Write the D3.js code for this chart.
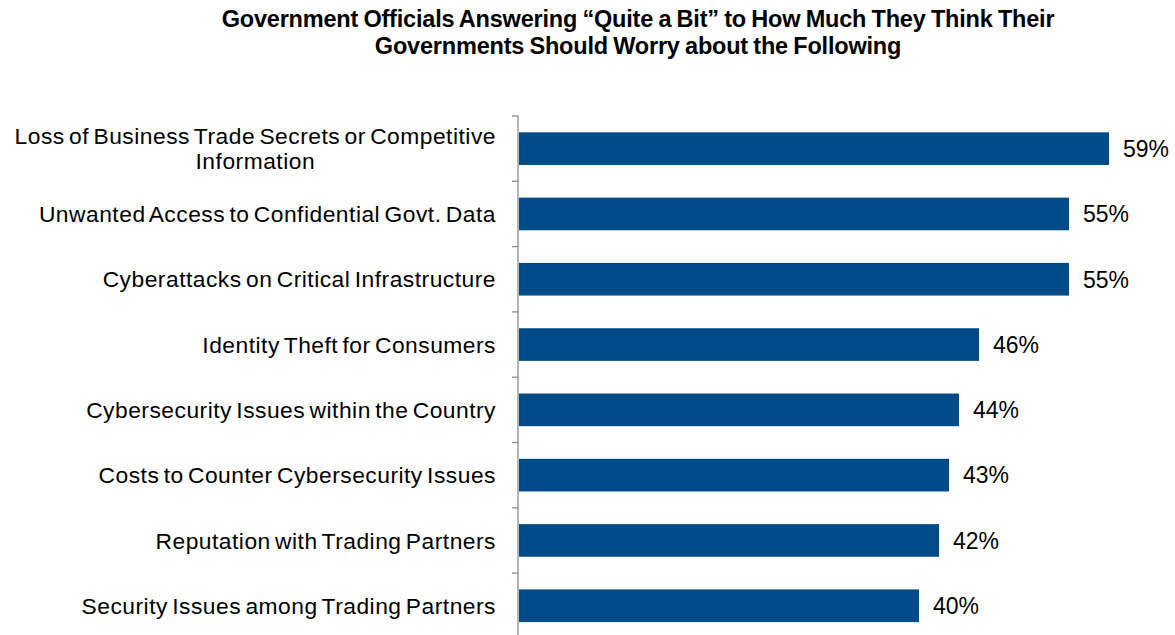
<!DOCTYPE html>
<html>
<head>
<meta charset="utf-8">
<script src="https://cdn.jsdelivr.net/npm/d3@7/dist/d3.min.js"></script>
<style>
  html, body { margin: 0; padding: 0; background: #fff; }
  svg { display: block; }
  text { font-family: "Liberation Sans", Arial, sans-serif; fill: #000; }
</style>
</head>
<body>
<svg id="chart" width="1175" height="635"></svg>
<script>
// Survey items (top to bottom) and share answering "Quite a Bit" (%)
const categories = [
  ["Loss of Business Trade Secrets or Competitive", "Information"],
  ["Unwanted Access to Confidential Govt. Data"],
  ["Cyberattacks on Critical Infrastructure"],
  ["Identity Theft for Consumers"],
  ["Cybersecurity Issues within the Country"],
  ["Costs to Counter Cybersecurity Issues"],
  ["Reputation with Trading Partners"],
  ["Security Issues among Trading Partners"]
];
const values = [59, 55, 55, 46, 44, 43, 42, 40];
const titleLines = [
  "Government Officials  Answering \u201CQuite a Bit\u201D to How Much They Think Their",
  "Governments Should Worry about the Following"
];

const svg = d3.select("#chart");
const keys = categories.map((c, i) => i);

const x = d3.scaleLinear().domain([0, 60]).range([519, 1119]);
const y = d3.scaleBand().domain(keys).range([116, 638.4])
  .paddingInner(0.5).paddingOuter(0.25);
const step = y.step();

// Title
svg.append("g").selectAll("text").data(titleLines).join("text")
  .attr("x", 638).attr("y", (d, i) => 27 + i * 27)
  .attr("text-anchor", "middle")
  .style("font-weight", "bold").style("font-size", "23.5px")
  .style("letter-spacing", "-0.2px").style("word-spacing", "-1px")
  .text(d => d);

// Bars
svg.append("g").selectAll("rect").data(values).join("rect")
  .attr("x", x(0))
  .attr("y", (d, i) => y(i))
  .attr("width", d => x(d) - x(0))
  .attr("height", y.bandwidth())
  .attr("fill", "#004B87");

// Category axis: line plus ticks at band boundaries
const axis = svg.append("g").attr("stroke", "#8c8c8c").attr("stroke-width", 1.3);
axis.append("line").attr("x1", 518).attr("x2", 518).attr("y1", 116).attr("y2", 635);
axis.selectAll("line.tick").data(keys).join("line").attr("class", "tick")
  .attr("x1", 512).attr("x2", 518)
  .attr("y1", d => y(d) - step * 0.25).attr("y2", d => y(d) - step * 0.25);

// Category labels: each block ends at the axis; lines are centred within it
const labelRight = 496;
const labels = svg.append("g").selectAll("text").data(categories).join("text")
  .attr("text-anchor", "middle")
  .style("font-size", "22.8px")
  .style("letter-spacing", "0.5px").style("word-spacing", "-2.5px");
labels.each(function(lines, i) {
  const cy = y(i) + y.bandwidth() / 2;
  const lh = 25;
  const y0 = cy - (lines.length - 1) * lh / 2;
  const spans = d3.select(this).selectAll("tspan").data(lines).join("tspan")
    .attr("y", (d, j) => y0 + j * lh)
    .attr("dy", "0.36em")
    .text(d => d);
  const widest = d3.max(spans.nodes(), n => n.getComputedTextLength());
  spans.attr("x", labelRight - widest / 2);
});

// Value labels
svg.append("g").selectAll("text").data(values).join("text")
  .attr("x", d => x(d) + 14)
  .attr("y", (d, i) => y(i) + y.bandwidth() / 2)
  .attr("dy", "0.36em")
  .style("font-size", "23px")
  .text(d => d + "%");
</script>
</body>
</html>
